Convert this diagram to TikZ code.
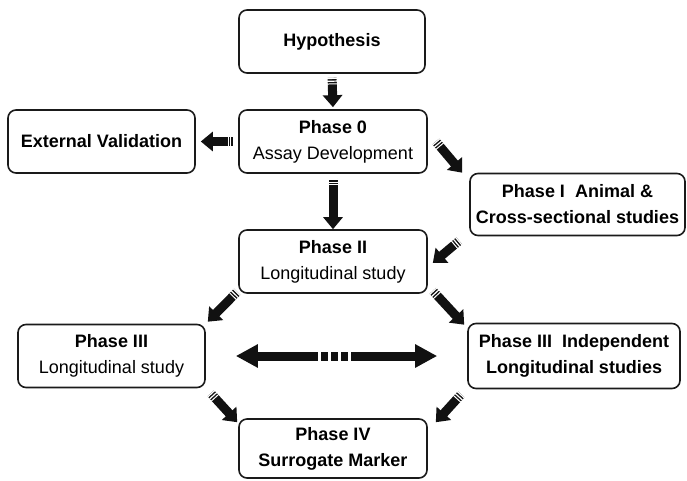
\documentclass[tikz,border=0pt]{standalone}
\usepackage{fontspec}
\setmainfont{Liberation Sans}
\usepackage{xcolor}
\usepackage{tikz}
\usetikzlibrary{arrows.meta}
\definecolor{boxline}{HTML}{1A1A1A}
\definecolor{arrowblack}{HTML}{111111}
\tikzset{
  phasebox/.style={draw=boxline, line width=1.6pt, rounded corners=8pt,
        align=center, inner sep=2pt, minimum height=63pt,
        font=\fontsize{18}{26}\selectfont},
  fatarrow/.style={draw=arrowblack, line width=9pt,
        -{Triangle[length=12pt,width=19pt]},
        postaction={draw=white, -, line width=10pt,
          dash pattern=on 1.2pt off 1.6pt on 1.2pt off 1.6pt on 1pt off 600pt}},
  twinarrow/.style={draw=arrowblack, line width=9pt,
        {Triangle[length=22pt,width=22pt]}-{Triangle[length=22pt,width=22pt]},
        postaction={draw=white, -, line width=10pt,
          dash pattern=on 0pt off 82pt on 2.7pt off 7.5pt on 2.7pt off 7.5pt
            on 2.7pt off 7.5pt on 2.7pt off 600pt}}
}

\begin{document}
\begin{tikzpicture}[x=1pt, y=-1pt]
  \useasboundingbox (0,0) rectangle (687,480);

  % boxes
  \node[phasebox, minimum width=186pt] (hyp) at (332,41.5) {\textbf{Hypothesis}};
  \node[phasebox, minimum width=188pt] (ph0) at (333,141.5)
       {\textbf{Phase 0}\\Assay Development};
  \node[phasebox, minimum width=187pt] (ext) at (101.5,141.5)
       {\textbf{External Validation}};
  \node[phasebox, minimum width=215pt, minimum height=62pt] (ph1) at (577.5,204.5)
       {\textbf{Phase I\ \ Animal \&}\\\textbf{Cross-sectional studies}};
  \node[phasebox, minimum width=188pt] (ph2) at (333,261.5)
       {\textbf{Phase II}\\Longitudinal study};
  \node[phasebox, minimum width=187pt] (ph3) at (111.5,356)
       {\textbf{Phase III}\\Longitudinal study};
  \node[phasebox, minimum width=212pt, minimum height=65pt] (ph3i) at (574,356)
       {\textbf{Phase III\ \ Independent}\\\textbf{Longitudinal studies}};
  \node[phasebox, minimum width=188pt, minimum height=59pt] (ph4) at (333,448.5)
       {\textbf{Phase IV}\\\textbf{Surrogate Marker}};

  % arrows
  \draw[fatarrow, shorten <=4pt, shorten >=2pt] (hyp.south) -- (ph0.north);
  \draw[fatarrow, shorten <=4pt, shorten >=5pt] (ph0.west) -- (ext.east);
  \draw[fatarrow] ([xshift=8pt]ph0.east) -- ([xshift=-7pt]ph1.north west);
  \draw[fatarrow, shorten <=5pt] (ph0.south) -- (ph2.north);
  \draw[fatarrow] ([xshift=-10pt, yshift=-4.5pt]ph1.south west)
       -- ([xshift=5pt, yshift=-1.5pt]ph2.east);
  \draw[fatarrow] ([xshift=-1pt, yshift=2pt]ph2.south west)
       -- ([xshift=2pt, yshift=2pt]ph3.north east);
  \draw[fatarrow] ([xshift=5pt, yshift=3pt]ph2.south east)
       -- ([xshift=-3pt, yshift=-2pt]ph3i.north west);
  \draw[twinarrow, shorten <=30pt, shorten >=30pt] (ph3.east) -- (ph3i.west);
  \draw[fatarrow] ([xshift=5pt, yshift=-5pt]ph3.south east)
       -- ([xshift=-1pt, yshift=-4pt]ph4.north west);
  \draw[fatarrow] ([xshift=-6pt, yshift=-5pt]ph3i.south west)
       -- ([xshift=8pt, yshift=-4pt]ph4.north east);
\end{tikzpicture}
\end{document}
